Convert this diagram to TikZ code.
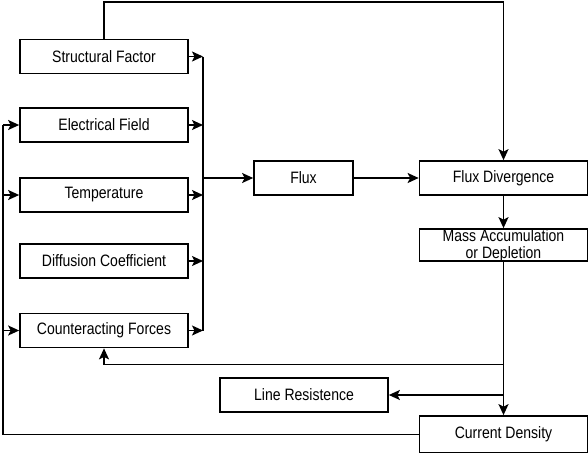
\documentclass[tikz,border=0pt]{standalone}
\usepackage{fontspec}
\setmainfont{Liberation Sans}[FakeStretch=0.85]
\usetikzlibrary{arrows.meta}
\begin{document}
\begin{tikzpicture}[x=1pt,y=-1pt,
  labelfont/.style={font=\fontsize{16.5}{17.5}\selectfont},
  box/.style={draw, line width=1.7pt, rectangle, inner sep=0pt,
    minimum width=168pt, minimum height=34pt, labelfont},
  link/.style={line width=1.5pt, -{Stealth[length=11pt,width=10pt,inset=2.5pt]}},
  wire/.style={line width=1.5pt}]
\useasboundingbox (0,0) rectangle (588,452);

% input factors
\node[box] (sf) at (104,56.5) {Structural Factor};
\node[box] (ef) at (104,125) {Electrical Field};
\node[box] (tp) at (104,195) {Temperature};
\node[box] (dc) at (104,261) {Diffusion Coefficient};
\node[box] (cf) at (104,330.5) {Counteracting Forces};

% main chain
\node[box, minimum width=99pt] (flux) at (303.5,178) {Flux};
\node[box] (fd) at (503.5,178) {Flux Divergence};
\node[box, minimum height=32pt] (mass) at (503.5,245) {};
\node[labelfont, align=center, inner sep=0pt]
  (masstext) at (503.5,245.5) {Mass Accumulation\\or Depletion};
\node[box] (lr) at (304,395) {Line Resistence};
\node[box, minimum height=37pt] (cd) at (503.5,434.5) {Current Density};

% collecting bus
\coordinate (bus) at (203,0);
\coordinate (leftx) at (3,0);
\draw[wire] (sf.east -| bus) -- (cf.east -| bus);
\foreach \n in {sf,ef,tp,dc,cf}
  \draw[link] (\n.east) -- (\n.east -| bus);
\draw[link] (flux.west -| bus) -- (flux.west);

% structural factor feeds the divergence directly
\draw[link] (sf.north) -- ++(0,-36.5) -| (fd.north);

\draw[link] (flux) -- (fd);
\draw[link] (fd) -- (mass);
\draw[link] (mass) -- (cd);

% feedback paths
\coordinate (tap) at (503.5,364.5);
\draw[link] (tap) -| (cf.south);
\draw[link] (lr.east -| mass.south) -- (lr.east);
\draw[wire] (cd.west) -| (leftx |- ef.west);
\foreach \n in {ef,tp,cf}
  \draw[link] (\n.west -| leftx) -- (\n.west);
\end{tikzpicture}
\end{document}
